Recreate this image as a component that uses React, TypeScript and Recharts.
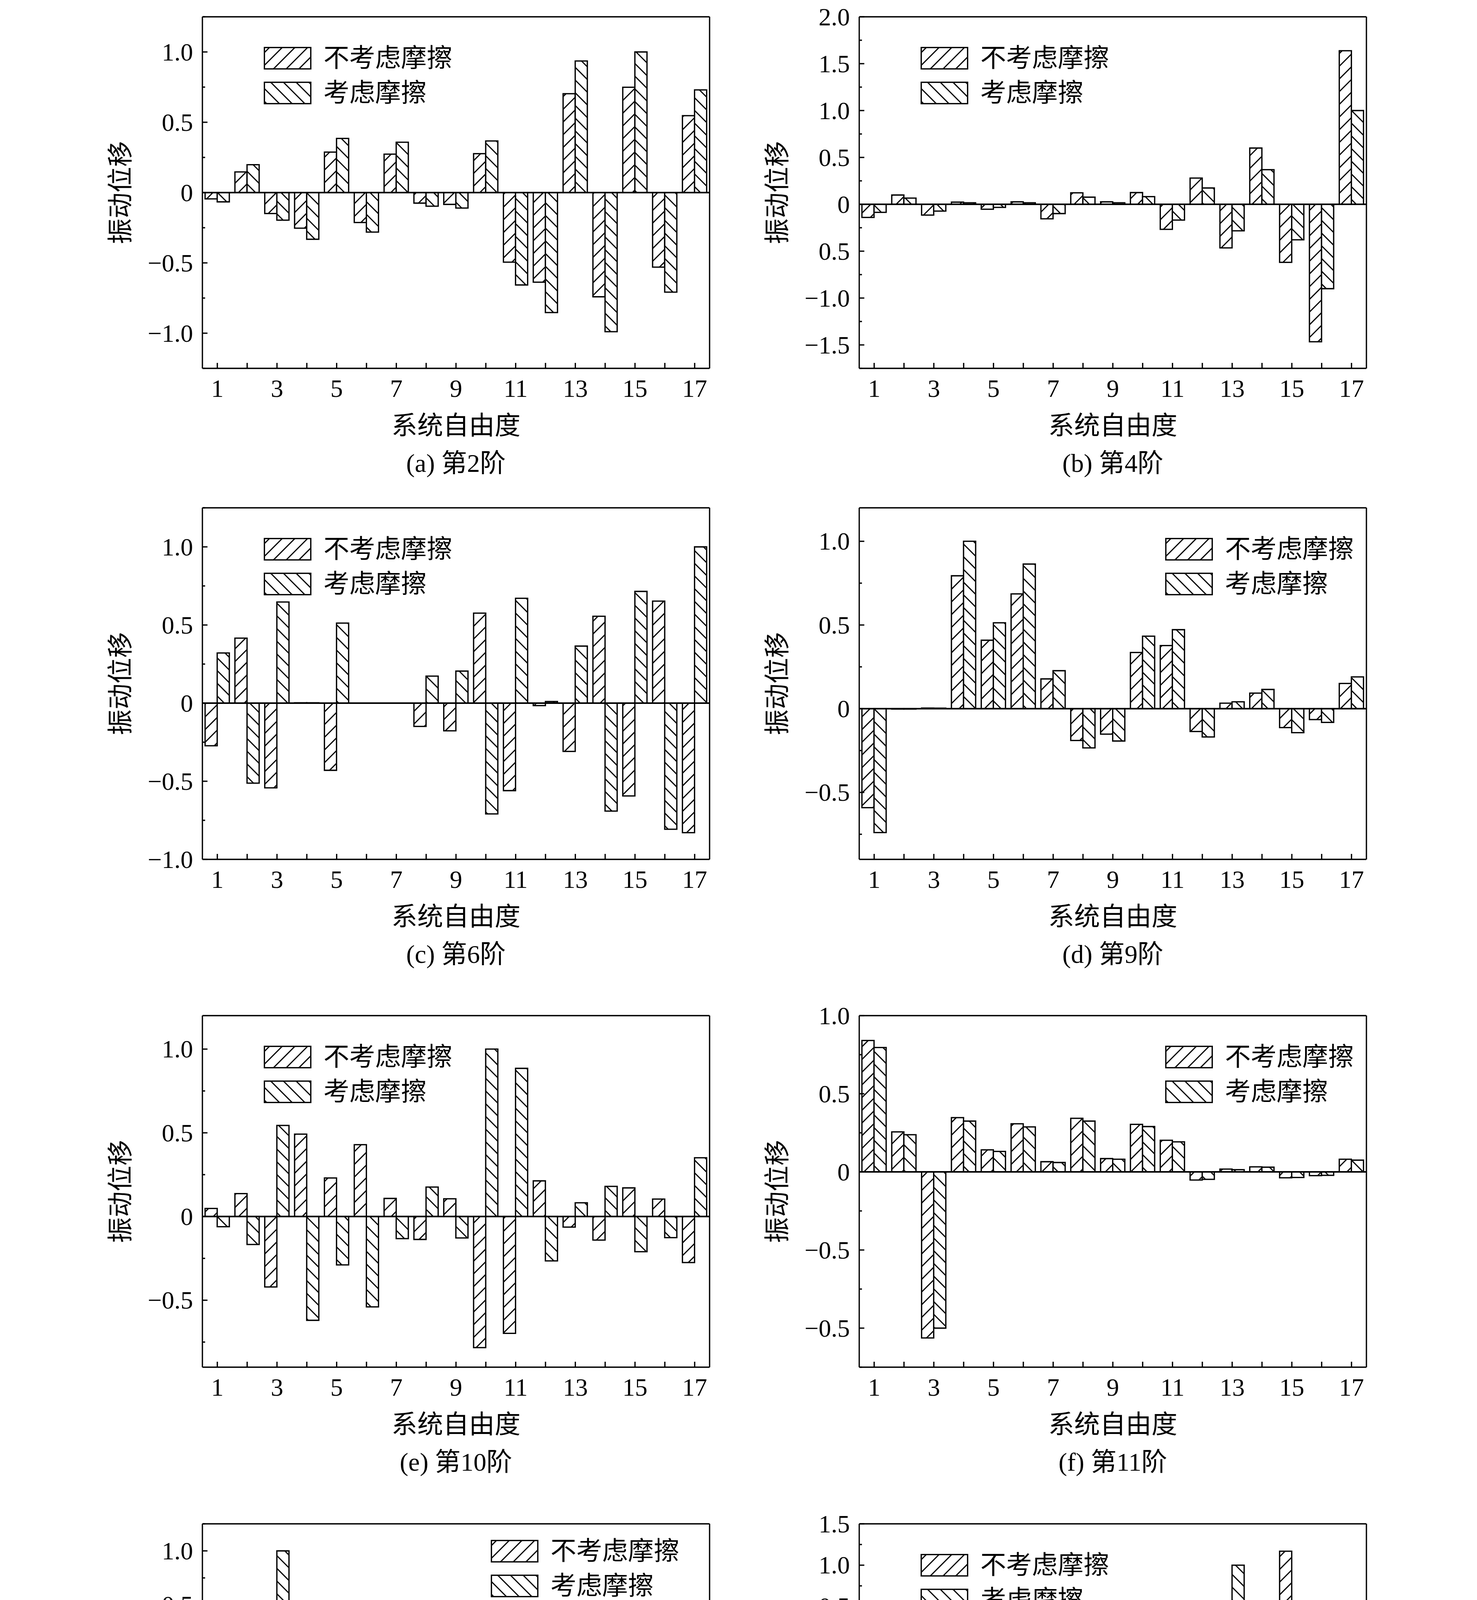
import React from 'react'
import { BarChart, Bar, XAxis, YAxis, ReferenceLine } from 'recharts'

// system degrees of freedom (x categories) and the odd-only tick labels
const dof = ['1', '2', '3', '4', '5', '6', '7', '8', '9', '10', '11', '12', '13', '14', '15', '16', '17']
const xTickLabels = ['1', '', '3', '', '5', '', '7', '', '9', '', '11', '', '13', '', '15', '', '17']

const seriesNames = ['不考虑摩擦', '考虑摩擦']

// (a) 第2阶
const noFricA = [-0.045, 0.147, -0.149, -0.253, 0.288, -0.213, 0.273, -0.075, -0.084, 0.277, -0.495, -0.637, 0.703, -0.741, 0.749, -0.53, 0.547]
const fricA = [-0.066, 0.198, -0.196, -0.332, 0.385, -0.281, 0.358, -0.097, -0.11, 0.367, -0.657, -0.853, 0.936, -0.989, 1.0, -0.708, 0.73]
// (b) 第4阶
const noFricB = [-0.14, 0.099, -0.115, 0.023, -0.053, 0.026, -0.155, 0.122, 0.026, 0.125, -0.267, 0.28, -0.465, 0.6, -0.619, -1.466, 1.638]
const fricB = [-0.086, 0.066, -0.072, 0.016, -0.033, 0.016, -0.099, 0.076, 0.016, 0.082, -0.168, 0.174, -0.283, 0.369, -0.379, -0.9, 1.0]
// (c) 第6阶
const noFricC = [-0.273, 0.416, -0.542, 0.002, -0.43, 0, 0, -0.149, -0.177, 0.576, -0.56, -0.016, -0.309, 0.556, -0.594, 0.653, -0.829]
const fricC = [0.321, -0.512, 0.647, 0.002, 0.512, 0, 0, 0.173, 0.205, -0.709, 0.671, 0.01, 0.365, -0.691, 0.715, -0.807, 1.0]
// (d) 第9阶
const noFricD = [-0.591, -0.002, 0.004, 0.794, 0.409, 0.686, 0.178, -0.19, -0.152, 0.336, 0.377, -0.136, 0.033, 0.093, -0.113, -0.065, 0.151]
const fricD = [-0.74, -0.002, 0.003, 1.0, 0.513, 0.864, 0.227, -0.234, -0.193, 0.433, 0.472, -0.169, 0.041, 0.115, -0.143, -0.082, 0.19]
// (e) 第10阶
const noFricE = [0.048, 0.137, -0.421, 0.492, 0.23, 0.429, 0.108, -0.137, 0.106, -0.783, -0.698, 0.213, -0.063, -0.141, 0.171, 0.104, -0.275]
const fricE = [-0.061, -0.167, 0.544, -0.62, -0.289, -0.54, -0.132, 0.176, -0.128, 1.0, 0.885, -0.265, 0.082, 0.18, -0.21, -0.126, 0.351]
// (f) 第11阶
const noFricF = [0.841, 0.256, -1.063, 0.347, 0.141, 0.308, 0.065, 0.343, 0.085, 0.304, 0.202, -0.052, 0.018, 0.032, -0.038, -0.024, 0.081]
const fricF = [0.796, 0.238, -1.0, 0.325, 0.131, 0.288, 0.06, 0.325, 0.081, 0.29, 0.192, -0.048, 0.014, 0.03, -0.036, -0.022, 0.075]
// (g) 第13阶
const noFricG = [-0.274, -0.784, -1.612, -0.161, -0.031, -0.164, -0.023, -0.042, -0.023, -0.008, -0.002, 0, 0, 0, 0, 0, 0.002]
const fricG = [0.173, 0.489, 1.0, 0.099, 0.017, 0.099, 0.008, 0.025, 0.014, 0.006, 0.003, 0, 0, 0, 0, 0.003, 0.003]
// (h) 第14阶
const noFricH = [0, 0, 0, 0, 0, 0, 0, 0, 0, 0, 0.022, -0.276, -2.282, -0.601, 1.169, 0, 0]
const fricH = [0, 0, 0, 0, 0, 0, 0, 0, 0, -0.003, -0.015, 0.118, 1.0, 0.262, -0.52, 0, 0]

// y axis major ticks and their printed labels (kept as printed, incl. the odd ones in b and f)
const yMajorUnit = [-1, -0.5, 0, 0.5, 1]
const yLabelUnit = ['\u22121.0', '\u22120.5', '0', '0.5', '1.0']
const yMajorB = [-1.5, -1, -0.5, 0, 0.5, 1, 1.5, 2]
const yLabelB = ['\u22121.5', '\u22121.0', '0.5', '0', '0.5', '1.0', '1.5', '2.0']
const yMajorD = [-0.5, 0, 0.5, 1]
const yLabelD = ['\u22120.5', '0', '0.5', '1.0']
const yLabelF = ['\u22120.5', '\u22120.5', '0', '0.5', '1.0']
const yMajorG = [-2, -1.5, -1, -0.5, 0, 0.5, 1]
const yLabelG = ['\u22122.0', '\u22121.5', '\u22121.0', '\u22120.5', '0', '0.5', '1.0']
const yMajorH = [-2.5, -2, -1.5, -1, -0.5, 0, 0.5, 1, 1.5]
const yLabelH = ['\u22122.5', '\u22122.0', '\u22121.5', '\u22121.0', '\u22120.5', '0', '0.5', '1.0', '1.5']

const LATIN = "'Liberation Serif', 'Times New Roman', 'Noto Sans CJK SC', serif"
const TICK_FONT = 64
const CJK_FONT = 66
const LINE = 3.3

const PW = 1298
const PH = 900
const ML = 260 // y axis band left of the plot
const MT = 60 // room above the plot so the top tick label is not clipped
const MR = 20
const MB = 110 // x axis band under the plot
const EDGE = 2 // size of the mirrored top/right axes that close the frame
const COLS = [518, 2199]
const ROWS = [43, 1300, 2600, 3901]

type Panel = {
  id: string
  caption: string
  s1: number[]
  s2: number[]
  domain: [number, number]
  majors: number[]
  labels: string[]
  col: number
  row: number
  legend: { x: number; y: number }
}

const legendLeft = { x: 157, y: 73 }
const legendRight = { x: 783, y: 73 }

const panels: Panel[] = [
  { id: 'a', caption: '(a) 第2阶', s1: noFricA, s2: fricA, domain: [-1.25, 1.25], majors: yMajorUnit, labels: yLabelUnit, col: 0, row: 0, legend: legendLeft },
  { id: 'b', caption: '(b) 第4阶', s1: noFricB, s2: fricB, domain: [-1.75, 2.0], majors: yMajorB, labels: yLabelB, col: 1, row: 0, legend: legendLeft },
  { id: 'c', caption: '(c) 第6阶', s1: noFricC, s2: fricC, domain: [-1.0, 1.25], majors: yMajorUnit, labels: yLabelUnit, col: 0, row: 1, legend: legendLeft },
  { id: 'd', caption: '(d) 第9阶', s1: noFricD, s2: fricD, domain: [-0.9, 1.2], majors: yMajorD, labels: yLabelD, col: 1, row: 1, legend: legendRight },
  { id: 'e', caption: '(e) 第10阶', s1: noFricE, s2: fricE, domain: [-0.9, 1.2], majors: yMajorD, labels: yLabelD, col: 0, row: 2, legend: legendLeft },
  { id: 'f', caption: '(f) 第11阶', s1: noFricF, s2: fricF, domain: [-1.25, 1.0], majors: yMajorUnit, labels: yLabelF, col: 1, row: 2, legend: legendRight },
  { id: 'g', caption: '(g) 第13阶', s1: noFricG, s2: fricG, domain: [-2.0, 1.25], majors: yMajorG, labels: yLabelG, col: 0, row: 3, legend: { x: 738, y: 37 } },
  { id: 'h', caption: '(h) 第14阶', s1: noFricH, s2: fricH, domain: [-2.75, 1.5], majors: yMajorH, labels: yLabelH, col: 1, row: 3, legend: legendLeft },
]

// 0.25 steps inside the domain, majors are the labelled ones
function yTicks(domain: [number, number]) {
  const out: number[] = []
  for (let k = Math.ceil(domain[0] * 4 - 1e-9); k <= Math.floor(domain[1] * 4 + 1e-9); k++) out.push(k / 4)
  return out
}

function Hatch({ id, dir }: { id: string; dir: 1 | -1 }) {
  return (
    <pattern id={id} patternUnits="userSpaceOnUse" width={23} height={23} patternTransform={`rotate(${dir * 45})`}>
      <rect width={23} height={23} fill="#fff" />
      <line x1={11.5} y1={-2} x2={11.5} y2={25} stroke="#000" strokeWidth={3} />
    </pattern>
  )
}

function Swatch({ id, dir }: { id: string; dir: 1 | -1 }) {
  return (
    <svg width={122} height={58} style={{ display: 'block' }}>
      <defs>
        <Hatch id={id} dir={dir} />
      </defs>
      <rect x={LINE / 2} y={LINE / 2} width={122 - LINE} height={58 - LINE} fill={`url(#${id})`} stroke="#000" strokeWidth={LINE} />
    </svg>
  )
}

function ModeChart({ p }: { p: Panel }) {
  const data = dof.map((d, i) => ({ dof: d, s1: p.s1[i], s2: p.s2[i] }))
  const ticks = yTicks(p.domain)
  const left = COLS[p.col]
  const top = ROWS[p.row]

  const XTick = (props: any) => {
    const { x, index } = props
    const label = xTickLabels[index]
    return (
      <g>
        <line x1={x} x2={x} y1={MT + PH} y2={MT + PH - 14} stroke="#000" strokeWidth={LINE} />
        {label ? (
          <text x={x} y={MT + PH + 51} textAnchor="middle" dominantBaseline="central" fontFamily={LATIN} fontSize={TICK_FONT} fill="#000">
            {label}
          </text>
        ) : null}
      </g>
    )
  }

  const YTick = (props: any) => {
    const { y, payload } = props
    const v = payload.value as number
    const mi = p.majors.findIndex((m) => Math.abs(m - v) < 1e-6)
    return (
      <g>
        <line x1={ML} x2={ML + (mi >= 0 ? 13 : 7)} y1={y} y2={y} stroke="#000" strokeWidth={LINE} />
        {mi >= 0 ? (
          <text x={ML - 24} y={y} textAnchor="end" dominantBaseline="central" fontFamily={LATIN} fontSize={TICK_FONT} fill="#000">
            {p.labels[mi]}
          </text>
        ) : null}
      </g>
    )
  }

  const h1 = `h1-${p.id}`
  const h2 = `h2-${p.id}`
  const textStyle: React.CSSProperties = {
    position: 'absolute',
    fontFamily: LATIN,
    fontSize: CJK_FONT,
    whiteSpace: 'nowrap',
    lineHeight: 1,
    color: '#000',
  }
  const frame = { stroke: '#000', strokeWidth: LINE }

  return (
    <>
      <div style={{ position: 'absolute', left: left - ML, top: top - MT }}>
        <BarChart
          width={ML + PW + MR}
          height={MT + PH + MB}
          data={data}
          margin={{ top: MT - EDGE, right: MR - EDGE, bottom: 0, left: 0 }}
          barCategoryGap="9%"
          barGap={0}
        >
          <defs>
            <Hatch id={h1} dir={1} />
            <Hatch id={h2} dir={-1} />
          </defs>
          <XAxis dataKey="dof" height={MB} interval={0} tickSize={0} tickLine={false} axisLine={frame} tick={XTick} />
          <XAxis xAxisId="top" dataKey="dof" orientation="top" height={EDGE} interval={0} tick={false} tickLine={false} axisLine={frame} />
          <YAxis
            type="number"
            domain={p.domain}
            ticks={ticks}
            interval={0}
            allowDataOverflow
            width={ML}
            tickSize={0}
            tickLine={false}
            axisLine={frame}
            tick={YTick}
          />
          <YAxis yAxisId="right" orientation="right" type="number" domain={p.domain} allowDataOverflow width={EDGE} tick={false} tickLine={false} axisLine={frame} />
          <Bar dataKey="s1" name={seriesNames[0]} fill={`url(#${h1})`} stroke="#000" strokeWidth={LINE} isAnimationActive={false} />
          <Bar dataKey="s2" name={seriesNames[1]} fill={`url(#${h2})`} stroke="#000" strokeWidth={LINE} isAnimationActive={false} />
          <ReferenceLine y={0} stroke="#000" strokeWidth={4} />
        </BarChart>
      </div>

      {/* legend */}
      {seriesNames.map((name, i) => (
        <div key={name} style={{ position: 'absolute', left: left + p.legend.x, top: top + p.legend.y + i * 89, display: 'flex', alignItems: 'center' }}>
          <Swatch id={`lg${i}-${p.id}`} dir={i === 0 ? 1 : -1} />
          <span style={{ fontFamily: LATIN, fontSize: CJK_FONT, marginLeft: 31, lineHeight: 1, whiteSpace: 'nowrap' }}>{name}</span>
        </div>
      ))}

      {/* axis titles and caption */}
      <div style={{ ...textStyle, left: left - 209, top: top + PH / 2, transform: 'translate(-50%, -50%) rotate(-90deg)' }}>振动位移</div>
      <div style={{ ...textStyle, left: left + PW / 2, top: top + PH + 147, transform: 'translate(-50%, -50%)' }}>系统自由度</div>
      <div style={{ ...textStyle, left: left + PW / 2, top: top + PH + 243, transform: 'translate(-50%, -50%)' }}>{p.caption}</div>
    </>
  )
}

export default function App() {
  return (
    <div style={{ position: 'relative', width: 3780, height: 5088, background: '#fff', overflow: 'hidden' }}>
      <style>{'body{margin:0}'}</style>
      {panels.map((p) => (
        <ModeChart key={p.id} p={p} />
      ))}
    </div>
  )
}
